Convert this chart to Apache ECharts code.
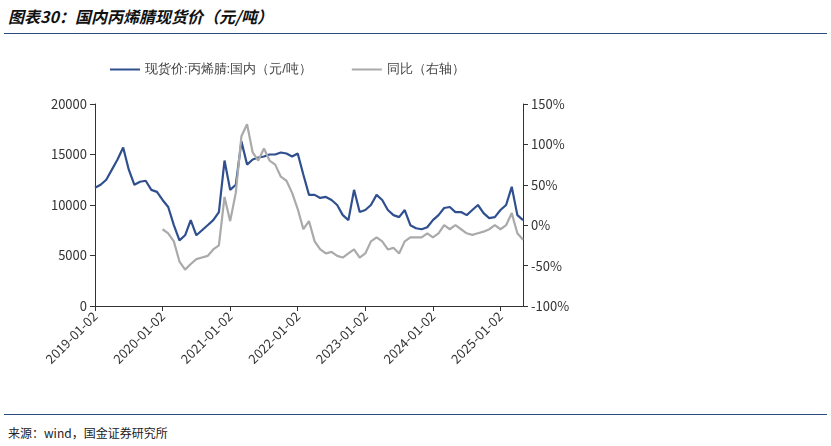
<!DOCTYPE html>
<html><head><meta charset="utf-8">
<script src="https://cdn.jsdelivr.net/npm/echarts@6/dist/echarts.min.js"></script>
<style>body{margin:0;background:#fff;font-family:"Noto Sans CJK SC",sans-serif}
#t{position:absolute;left:8px;top:4px;font-size:16px;font-weight:bold;font-style:italic;color:#111}
#l1{position:absolute;left:4px;top:33px;width:823px;border-top:1.5px solid #2a4a7f}
#l2{position:absolute;left:4px;top:414px;width:823px;border-top:1.5px solid #2a4a7f}
#s{position:absolute;left:8px;top:424px;font-size:12px;color:#222}
#main{position:absolute;left:0;top:40px;width:831px;height:370px}</style></head>
<body><div id="t">图表30：国内丙烯腈现货价（元/吨）</div><div id="l1"></div>
<div id="main"></div><div id="l2"></div><div id="s">来源：wind，国金证券研究所</div>
<script>
// 月度数据 2019-01 ~ 2025-05
let months=[];
for(let y=2019;y<=2025;y++){for(let m=1;m<=12;m++){if(y==2025&&m>5)break;months.push(y+"-"+String(m).padStart(2,"0")+"-02");}}
let price=[11700,12000,12500,13500,14500,15700,13500,12000,12300,12400,11500,11300,
10500,9800,8000,6500,7000,8500,7000,7500,8000,8500,9300,14400,
11500,12000,16300,14000,14500,14700,14800,15000,15000,15200,15100,14800,
15100,13000,11000,11000,10700,10800,10500,10000,9000,8500,11500,9300,
9500,10000,11000,10500,9500,9000,8800,9500,8000,7700,7600,7800,
8500,9000,9700,9800,9300,9300,9000,9500,10000,9200,8700,8800,
9500,10000,11800,9000,8500];
let yoy=[null,null,null,null,null,null,null,null,null,null,null,null,
-5,-10,-20,-45,-55,-48,-42,-40,-38,-30,-25,35,
5,40,110,125,90,80,95,80,75,60,55,40,
20,-5,5,-20,-30,-35,-33,-38,-40,-35,-30,-40,
-35,-20,-15,-20,-30,-28,-35,-20,-15,-15,-15,-10,
-15,-10,0,-5,0,-5,-10,-12,-10,-8,-5,0,
-5,0,15,-10,-18];
let chart=echarts.init(document.getElementById('main'));
let ax={color:'#333',fontSize:13,fontFamily:'"Noto Sans CJK SC"'};
chart.setOption({
 animation:false,
 legend:{top:18,left:105,itemWidth:30,itemHeight:2,itemGap:40,icon:'rect',textStyle:{color:'#444',fontSize:13},
  data:['现货价:丙烯腈:国内（元/吨）','同比（右轴）']},
 grid:{left:95,right:308,top:64,bottom:104},
 xAxis:{type:'category',data:months,boundaryGap:false,
  axisLine:{lineStyle:{color:'#333'}},axisTick:{alignWithLabel:true,interval:(i)=>i%12==0,length:5},
  axisLabel:Object.assign({interval:(i)=>i%12==0,rotate:45},ax)},
 yAxis:[{type:'value',min:0,max:20000,interval:5000,splitLine:{show:false},
   axisLine:{show:true,lineStyle:{color:'#333'}},axisTick:{show:true},
   axisLabel:Object.assign({formatter:(v)=>String(v)},ax)},
  {type:'value',min:-100,max:150,interval:50,splitLine:{show:false},
   axisLine:{show:true,lineStyle:{color:'#333'}},axisTick:{show:true},
   axisLabel:Object.assign({formatter:'{value}%'},ax)}],
 series:[{name:'现货价:丙烯腈:国内（元/吨）',type:'line',data:price,showSymbol:false,
   lineStyle:{color:'#2f4f8f',width:2.2},itemStyle:{color:'#2f4f8f'}},
  {name:'同比（右轴）',type:'line',yAxisIndex:1,data:yoy,showSymbol:false,
   lineStyle:{color:'#aaaaaa',width:2.2},itemStyle:{color:'#aaaaaa'}}]
});
</script></body></html>
